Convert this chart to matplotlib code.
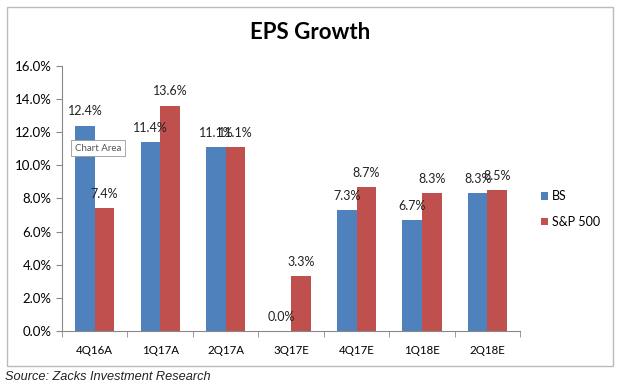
import numpy as np
import matplotlib
matplotlib.use("Agg")
import matplotlib.pyplot as plt
from matplotlib.patches import Rectangle

# --- data ---
quarters = ["4Q16A", "1Q17A", "2Q17A", "3Q17E", "4Q17E", "1Q18E", "2Q18E"]
bs_growth = [12.4, 11.4, 11.1, 0.0, 7.3, 6.7, 8.3]
sp500_growth = [7.4, 13.6, 11.1, 3.3, 8.7, 8.3, 8.5]
y_ticks = [0, 2, 4, 6, 8, 10, 12, 14, 16]

plt.rcParams["font.family"] = ["Lato", "DejaVu Sans"]

fig = plt.figure(figsize=(6.2, 3.88), dpi=100)
ax = fig.add_axes([0.100, 0.147, 0.739, 0.683])

x = np.arange(len(quarters))
w = 0.30
blue, red = "#4F81BD", "#C0504D"
ax.bar(x - w / 2, bs_growth, w, color=blue, label="BS")
ax.bar(x + w / 2, sp500_growth, w, color=red, label="S&P 500")

for xi, v in zip(x, bs_growth):
    ax.text(xi - w / 2, v + 0.5, f"{v:.1f}%", ha="center", va="bottom", fontsize=9, color="#222222")
for xi, v in zip(x, sp500_growth):
    ax.text(xi + w / 2, v + 0.5, f"{v:.1f}%", ha="center", va="bottom", fontsize=9, color="#222222")

ax.set_xlim(-0.5, len(quarters) - 0.5)
ax.set_ylim(0, 16)
ax.set_yticks(y_ticks)
ax.set_yticklabels([f"{t:.1f}%" for t in y_ticks], fontsize=9.5)
ax.set_xticks(x)
ax.set_xticklabels(quarters, fontsize=8.3)
ax.set_xticks(np.arange(-0.5, len(quarters)), minor=True)
ax.tick_params(axis="x", which="major", length=0, pad=10)
ax.tick_params(axis="x", which="minor", length=4, color="#888888")
ax.tick_params(axis="y", length=4, color="#888888")
for s in ["top", "right"]:
    ax.spines[s].set_visible(False)
for s in ["left", "bottom"]:
    ax.spines[s].set_color("#888888")

fig.text(0.5, 0.915, "EPS Growth", ha="center", va="center", fontsize=16, fontweight="bold")

leg = ax.legend(loc="center left", bbox_to_anchor=(1.02, 0.46), frameon=False,
                fontsize=9, handlelength=0.6, handleheight=0.6, handletextpad=0.3,
                labelspacing=1.1)

# outer chart border
fig.patches.append(Rectangle((7 / 620, 1 - 366 / 388), 606 / 620, 359 / 388,
                             transform=fig.transFigure, fill=False,
                             edgecolor="#BBBBBB", lw=1))

# the "Chart Area" tooltip that appears in the screenshot
ax.text(0.028, 0.689, "Chart Area", transform=ax.transAxes, fontsize=7, color="#555555",
        ha="left", va="center",
        bbox=dict(boxstyle="square,pad=0.35", fc="white", ec="#999999", lw=0.6))

fig.text(5 / 620, 1 - 377 / 388, "Source: Zacks Investment Research", ha="left", va="center",
         fontsize=9.2, style="italic", family=["Liberation Sans", "DejaVu Sans"], color="#222222")

fig.savefig("out.png", dpi=100)
